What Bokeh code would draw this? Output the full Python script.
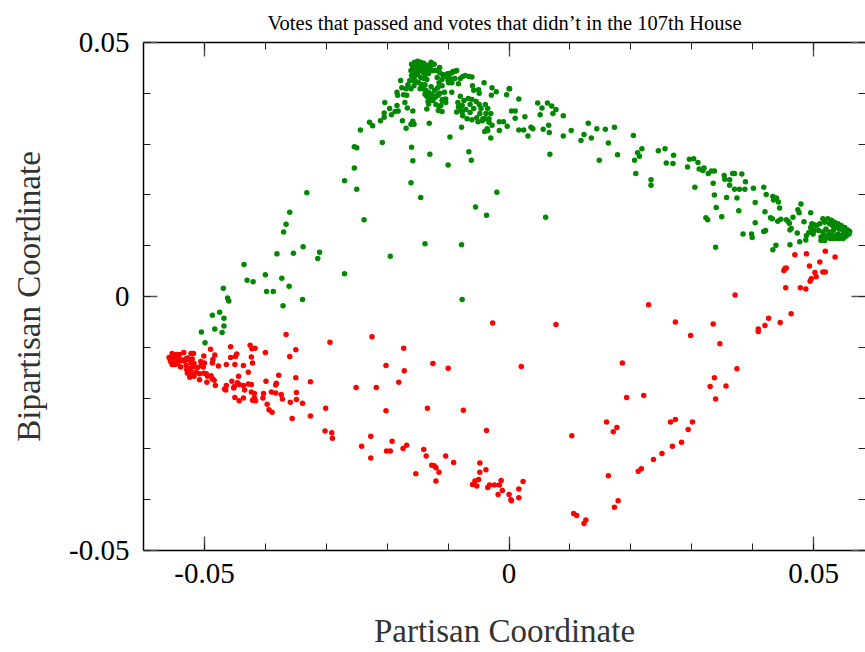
from bokeh.plotting import figure
from bokeh.models import Range1d, LinearAxis, SingleIntervalTicker, CustomJSTickFormatter
from bokeh.embed import file_html
from bokeh.resources import INLINE

# ---------------- data (partisan coordinate, bipartisan coordinate) ----------------
# votes that passed (green)
green_left_x = [-0.0505, -0.0471, -0.0499, -0.0483, -0.0468, -0.0475, -0.0487, -0.0468, -0.0469, -0.0462,
                -0.0460, -0.0435, -0.0430, -0.0420, -0.0400, -0.0398, -0.0387, -0.0373, -0.0361, -0.0371,
                -0.0339, -0.0381, -0.0354, -0.0370, -0.0366, -0.0360, -0.0338, -0.0311, -0.0314, -0.0332, -0.0270]
green_left_y = [-0.0070, -0.0071, -0.0091, -0.0064, -0.0058, -0.0031, -0.0037, -0.0043, 0.0016, -0.0003,
                -0.0009, 0.0063, 0.0032, 0.0029, 0.0043, 0.0010, 0.0010, 0.0036, 0.0020, -0.0018,
                -0.0006, 0.0084, 0.0085, 0.0127, 0.0142, 0.0166, 0.0098, 0.0087, 0.0075, 0.0204, 0.0045]

green_mid_x = [-0.0270, -0.0250, -0.0238, -0.0254, -0.0250, -0.0254, -0.0244, -0.0229, -0.0224, -0.0211,
               -0.0205, -0.0205, -0.0204, -0.0196, -0.0193, -0.0187, -0.0182, -0.0184, -0.0184, -0.0183,
               -0.0178, -0.0176, -0.0173, -0.0168, -0.0171, -0.0167, -0.0175, -0.0169, -0.0158, -0.0161,
               -0.0156, -0.0158, -0.0208, -0.0160, -0.0158, -0.0161, -0.0145, -0.0131, -0.0130, -0.0135,
               -0.0132, -0.0195, -0.0138, -0.0078, -0.0077, -0.0100, -0.0097, -0.0066, -0.0062, -0.0055,
               -0.0037, -0.0020, 0.0060, 0.0067]
green_mid_y = [0.0228, 0.0211, 0.0151, 0.0295, 0.0293, 0.0253, 0.0328, 0.0343, 0.0336, 0.0346,
               0.0353, 0.0361, 0.0382, 0.0370, 0.0358, 0.0364, 0.0365, 0.0376, 0.0402, 0.0396,
               0.0425, 0.0411, 0.0397, 0.0396, 0.0382, 0.0371, 0.0346, 0.0331, 0.0345, 0.0339,
               0.0339, 0.0365, 0.0303, 0.0294, 0.0267, 0.0224, 0.0195, 0.0341, 0.0280, 0.0369,
               0.0379, 0.0079, 0.0104, 0.0102, -0.0006, 0.0259, 0.0314, 0.0285, 0.0268, 0.0176,
               0.0160, 0.0205, 0.0156, 0.0280]

green_peak_x = [-0.0160, -0.0155, -0.0150, -0.0145, -0.0140, -0.0135, -0.0130, -0.0158, -0.0153, -0.0148,
                -0.0143, -0.0138, -0.0133, -0.0161, -0.0156, -0.0151, -0.0146, -0.0141, -0.0137, -0.0132,
                -0.0160, -0.0155, -0.0150, -0.0145, -0.0140, -0.0135, -0.0163, -0.0158, -0.0153, -0.0148,
                -0.0143, -0.0138, -0.0156, -0.0166, -0.0169, -0.0161, -0.0146, -0.0128, -0.0123, -0.0125,
                -0.0141, -0.0137, -0.0132, -0.0127, -0.0135, -0.0130, -0.0123, -0.0118, -0.0114, -0.0122,
                -0.0117, -0.0110, -0.0128, -0.0125, -0.0120, -0.0115, -0.0109, -0.0104, -0.0138, -0.0133]
green_peak_y = [0.0457, 0.0461, 0.0463, 0.0461, 0.0459, 0.0455, 0.0451, 0.0451, 0.0453, 0.0455,
                0.0453, 0.0449, 0.0445, 0.0445, 0.0443, 0.0445, 0.0445, 0.0441, 0.0437, 0.0439,
                0.0435, 0.0433, 0.0437, 0.0431, 0.0429, 0.0427, 0.0425, 0.0425, 0.0423, 0.0421,
                0.0417, 0.0417, 0.0415, 0.0417, 0.0409, 0.0409, 0.0409, 0.0461, 0.0457, 0.0445,
                0.0409, 0.0406, 0.0402, 0.0398, 0.0394, 0.0390, 0.0392, 0.0396, 0.0400, 0.0406,
                0.0411, 0.0415, 0.0413, 0.0386, 0.0378, 0.0374, 0.0388, 0.0382, 0.0398, 0.0384]

green_wing_x = [-0.0120, -0.0114, -0.0109, -0.0104, -0.0099, -0.0092, -0.0086, -0.0118, -0.0110, -0.0100,
                -0.0094, -0.0089, -0.0115,
                -0.0114, -0.0128, -0.0121, -0.0102, -0.0094, -0.0087, -0.0099, -0.0097, -0.0094, -0.0106,
                -0.0104, -0.0110, -0.0112, -0.0116, -0.0110, -0.0128, -0.0121, -0.0116,
                -0.0083, -0.0080, -0.0076, -0.0072, -0.0066, -0.0061, -0.0080, -0.0084, -0.0083, -0.0086, -0.0077]
green_wing_y = [0.0445, 0.0441, 0.0437, 0.0433, 0.0439, 0.0443, 0.0445, 0.0431, 0.0427, 0.0425,
                0.0421, 0.0429, 0.0421,
                0.0451, 0.0455, 0.0445, 0.0438, 0.0440, 0.0444, 0.0421, 0.0429, 0.0402, 0.0402,
                0.0389, 0.0386, 0.0376, 0.0366, 0.0364, 0.0387, 0.0392, 0.0396,
                0.0419, 0.0429, 0.0433, 0.0435, 0.0433, 0.0432, 0.0394, 0.0382, 0.0373, 0.0363, 0.0363]

green_ring_x = [-0.0074, -0.0067, -0.0061, -0.0054, -0.0049, -0.0046, -0.0048, -0.0053, -0.0061, -0.0069,
                -0.0076, -0.0079, -0.0077, -0.0064, -0.0058, -0.0064, -0.0071, -0.0039, -0.0035, -0.0038,
                -0.0043, -0.0033, -0.0051, -0.0030]
green_ring_y = [0.0386, 0.0390, 0.0388, 0.0384, 0.0378, 0.0370, 0.0360, 0.0352, 0.0348, 0.0350,
                0.0356, 0.0366, 0.0376, 0.0378, 0.0370, 0.0362, 0.0368, 0.0378, 0.0370, 0.0360,
                0.0350, 0.0350, 0.0344, 0.0360]

green_top_x = [-0.0041, -0.0028, -0.0021, -0.0029, -0.0050, -0.0049, -0.0060, -0.0058, -0.0033, -0.0036,
               -0.0040, -0.0035, -0.0030, -0.0016, -0.0009, -0.0016, -0.0003, -0.0004, 0.0000, 0.0001,
               0.0004, 0.0010, 0.0010, 0.0016, 0.0016, 0.0024, 0.0026, 0.0031, 0.0036, 0.0039,
               0.0047, 0.0054, 0.0051, 0.0063, 0.0070, 0.0077, 0.0072, 0.0065, 0.0066, 0.0056,
               0.0089, 0.0089, 0.0102, 0.0118, 0.0123, 0.0130, 0.0135, 0.0144, 0.0148, -0.0078,
               -0.0044, -0.0028, -0.0039]
green_top_y = [0.0421, 0.0411, 0.0403, 0.0396, 0.0407, 0.0400, 0.0415, 0.0406, 0.0343, 0.0330,
               0.0325, 0.0327, 0.0312, 0.0344, 0.0344, 0.0327, 0.0335, 0.0397, 0.0409, 0.0409,
               0.0365, 0.0365, 0.0351, 0.0389, 0.0328, 0.0328, 0.0354, 0.0316, 0.0333, 0.0330,
               0.0381, 0.0371, 0.0358, 0.0381, 0.0375, 0.0368, 0.0360, 0.0337, 0.0323, 0.0329,
               0.0356, 0.0316, 0.0327, 0.0307, 0.0319, 0.0341, 0.0312, 0.0330, 0.0268, 0.0333,
               0.0346, 0.0337, 0.0350]

green_right_x = [0.0158, 0.0173, 0.0163, 0.0178, 0.0204, 0.0211, 0.0218, 0.0214, 0.0206, 0.0208,
                 0.0233, 0.0233, 0.0245, 0.0256, 0.0270, 0.0258, 0.0269, 0.0293, 0.0296, 0.0303,
                 0.0310, 0.0305, 0.0312, 0.0318, 0.0320, 0.0327, 0.0332, 0.0337, 0.0335, 0.0337,
                 0.0340, 0.0323, 0.0326, 0.0349, 0.0339, 0.0353, 0.0354, 0.0362, 0.0362, 0.0367,
                 0.0370, 0.0357, 0.0370, 0.0378, 0.0387, 0.0374, 0.0382, 0.0388, 0.0377, 0.0384,
                 0.0398, 0.0399, 0.0401, 0.0404, 0.0404, 0.0418, 0.0422, 0.0420, 0.0421, 0.0418,
                 0.0429, 0.0432, 0.0433, 0.0439, 0.0442, 0.0444, 0.0446, 0.0438, 0.0433, 0.0458,
                 0.0463, 0.0461, 0.0461, 0.0466, 0.0474, 0.0476, 0.0479, 0.0473, 0.0477, 0.0487,
                 0.0484, 0.0492, 0.0495, 0.0497, 0.0495, 0.0434, 0.0441, 0.0455, 0.0460, 0.0499,
                 0.0488, 0.0501, 0.0499]
green_right_y = [0.0329, 0.0333, 0.0302, 0.0279, 0.0317, 0.0283, 0.0291, 0.0276, 0.0268, 0.0242,
                 0.0230, 0.0219, 0.0287, 0.0291, 0.0278, 0.0263, 0.0262, 0.0255, 0.0270, 0.0271,
                 0.0264, 0.0215, 0.0251, 0.0248, 0.0253, 0.0242, 0.0247, 0.0247, 0.0223, 0.0200,
                 0.0175, 0.0155, 0.0151, 0.0157, 0.0097, 0.0238, 0.0231, 0.0230, 0.0219, 0.0242,
                 0.0242, 0.0195, 0.0211, 0.0211, 0.0211, 0.0194, 0.0241, 0.0226, 0.0169, 0.0123,
                 0.0123, 0.0116, 0.0213, 0.0185, 0.0145, 0.0215, 0.0201, 0.0167, 0.0130, 0.0128,
                 0.0155, 0.0153, 0.0197, 0.0194, 0.0186, 0.0174, 0.0152, 0.0101, 0.0092, 0.0148,
                 0.0134, 0.0131, 0.0102, 0.0156, 0.0171, 0.0165, 0.0182, 0.0125, 0.0108, 0.0111,
                 0.0147, 0.0126, 0.0136, 0.0143, 0.0165, 0.0190, 0.0148, 0.0151, 0.0144, 0.0123,
                 0.0120, 0.0141, 0.0131]

green_tip_x = [0.0510, 0.0515, 0.0518, 0.0523, 0.0526, 0.0529, 0.0531, 0.0534, 0.0537, 0.0540,
               0.0542, 0.0545, 0.0548, 0.0551, 0.0553, 0.0556, 0.0559, 0.0520, 0.0525, 0.0529,
               0.0532, 0.0536, 0.0540, 0.0543, 0.0547, 0.0551, 0.0515, 0.0512, 0.0518, 0.0523,
               0.0527, 0.0531, 0.0537, 0.0542, 0.0548, 0.0554, 0.0558, 0.0512, 0.0518, 0.0508,
               0.0505, 0.0501]
green_tip_y = [0.0143, 0.0153, 0.0146, 0.0153, 0.0143, 0.0150, 0.0140, 0.0146, 0.0136, 0.0143,
               0.0133, 0.0140, 0.0130, 0.0136, 0.0127, 0.0131, 0.0128, 0.0133, 0.0127, 0.0120,
               0.0130, 0.0120, 0.0123, 0.0117, 0.0120, 0.0117, 0.0127, 0.0117, 0.0120, 0.0117,
               0.0114, 0.0114, 0.0114, 0.0114, 0.0114, 0.0120, 0.0123, 0.0110, 0.0110, 0.0130,
               0.0140, 0.0130]

# votes that didn't pass (red)
red_right_x = [0.0371, 0.0454, 0.0478, 0.0487, 0.0453, 0.0455, 0.0451, 0.0469, 0.0488, 0.0493,
               0.0502, 0.0504, 0.0496, 0.0494, 0.0510, 0.0515, 0.0519, 0.0519, 0.0535]
red_right_y = [0.0003, 0.0017, 0.0017, 0.0015, 0.0055, 0.0056, 0.0051, 0.0082, 0.0084, 0.0060,
               0.0047, 0.0039, 0.0035, 0.0030, 0.0068, 0.0048, 0.0048, 0.0089, 0.0078]

red_arm_x = [0.0229, 0.0273, 0.0298, 0.0335, 0.0346, 0.0409, 0.0409, 0.0420, 0.0426, 0.0445,
             0.0463, 0.0186, 0.0374, 0.0337, 0.0330, 0.0356, 0.0339, 0.0193, 0.0221, 0.0103,
             0.0160, 0.0177, 0.0171, 0.0265, 0.0273, 0.0301, 0.0294, 0.0283, 0.0268, 0.0251,
             0.0237, 0.0217, 0.0212, 0.0163, 0.0179, 0.0173, 0.0106, 0.0111, 0.0126, 0.0123]
red_arm_y = [-0.0016, -0.0050, -0.0077, -0.0054, -0.0093, -0.0064, -0.0069, -0.0057, -0.0043, -0.0051,
             -0.0034, -0.0131, -0.0142, -0.0160, -0.0177, -0.0176, -0.0202, -0.0199, -0.0195, -0.0274,
             -0.0247, -0.0258, -0.0266, -0.0247, -0.0242, -0.0247, -0.0262, -0.0287, -0.0295, -0.0309,
             -0.0321, -0.0339, -0.0344, -0.0353, -0.0402, -0.0415, -0.0427, -0.0431, -0.0440, -0.0447]

red_mid_x = [-0.0027, 0.0077, -0.0173, -0.0202, -0.0172, -0.0181, -0.0125, -0.0100, 0.0020]
red_mid_y = [-0.0052, -0.0055, -0.0102, -0.0136, -0.0146, -0.0169, -0.0132, -0.0141, -0.0138]

red_low_x = [-0.0339, -0.0326, -0.0301, -0.0302, -0.0291, -0.0290, -0.0202, -0.0134, -0.0075, -0.0037,
             -0.0242, -0.0227, -0.0227, -0.0192, -0.0201, -0.0195, -0.0174, -0.0168, -0.0140, -0.0136,
             -0.0104, -0.0091, -0.0153, -0.0127, -0.0123, -0.0120, -0.0115, -0.0120, -0.0048, -0.0048,
             -0.0038, -0.0060, -0.0056, -0.0050, -0.0053, -0.0035, -0.0032, -0.0024, -0.0016, -0.0013,
             -0.0011, -0.0018, 0.0000, 0.0003, 0.0004, 0.0016, 0.0023, 0.0016]
red_low_y = [-0.0210, -0.0235, -0.0220, -0.0265, -0.0268, -0.0279, -0.0225, -0.0220, -0.0224, -0.0264,
             -0.0295, -0.0275, -0.0318, -0.0285, -0.0304, -0.0304, -0.0299, -0.0293, -0.0301, -0.0314,
             -0.0314, -0.0327, -0.0349, -0.0332, -0.0333, -0.0337, -0.0346, -0.0363, -0.0328, -0.0346,
             -0.0341, -0.0370, -0.0363, -0.0360, -0.0373, -0.0376, -0.0371, -0.0371, -0.0371, -0.0362,
             -0.0382, -0.0390, -0.0390, -0.0400, -0.0402, -0.0379, -0.0364, -0.0396]

red_left_x = [-0.0366, -0.0294, -0.0225, -0.0457, -0.0490, -0.0425, -0.0422, -0.0417, -0.0400, -0.0350,
              -0.0360, -0.0447, -0.0449, -0.0457, -0.0423, -0.0483, -0.0501, -0.0421, -0.0486, -0.0487,
              -0.0506, -0.0500, -0.0464, -0.0477, -0.0450, -0.0436, -0.0502, -0.0428, -0.0378, -0.0399,
              -0.0350, -0.0326, -0.0444, -0.0455, -0.0446, -0.0443, -0.0436, -0.0434, -0.0428, -0.0423,
              -0.0451, -0.0452, -0.0464, -0.0465, -0.0467, -0.0423, -0.0418, -0.0450, -0.0443, -0.0436,
              -0.0421, -0.0418, -0.0416, -0.0403, -0.0404, -0.0397, -0.0394, -0.0389, -0.0390, -0.0383,
              -0.0383, -0.0382, -0.0374, -0.0372, -0.0359, -0.0356, -0.0349, -0.0349, -0.0251, -0.0218]
red_left_y = [-0.0075, -0.0090, -0.0079, -0.0099, -0.0104, -0.0096, -0.0103, -0.0102, -0.0110, -0.0105,
              -0.0118, -0.0113, -0.0118, -0.0120, -0.0119, -0.0115, -0.0117, -0.0131, -0.0124, -0.0131,
              -0.0128, -0.0131, -0.0134, -0.0137, -0.0134, -0.0136, -0.0139, -0.0149, -0.0155, -0.0167,
              -0.0160, -0.0168, -0.0157, -0.0167, -0.0170, -0.0173, -0.0175, -0.0184, -0.0172, -0.0173,
              -0.0177, -0.0180, -0.0175, -0.0184, -0.0182, -0.0188, -0.0191, -0.0199, -0.0205, -0.0200,
              -0.0204, -0.0200, -0.0205, -0.0191, -0.0200, -0.0212, -0.0223, -0.0228, -0.0188, -0.0190,
              -0.0174, -0.0171, -0.0193, -0.0202, -0.0208, -0.0240, -0.0189, -0.0203, -0.0179, -0.0179]

red_tail_x = [-0.0553, -0.0546, -0.0541, -0.0534, -0.0522, -0.0518, -0.0552, -0.0550, -0.0551, -0.0547,
              -0.0540, -0.0536, -0.0533, -0.0530, -0.0528, -0.0525, -0.0520, -0.0522, -0.0517, -0.0539,
              -0.0529, -0.0528, -0.0522, -0.0514, -0.0508, -0.0524, -0.0517, -0.0508, -0.0501, -0.0495,
              -0.0489, -0.0484, -0.0482, -0.0496, -0.0487, -0.0511, -0.0503, -0.0519, -0.0525, -0.0530,
              -0.0544, -0.0556, -0.0555, -0.0558, -0.0553, -0.0548, -0.0543, -0.0551, -0.0505, -0.0497]
red_tail_y = [-0.0112, -0.0114, -0.0114, -0.0110, -0.0112, -0.0112, -0.0126, -0.0129, -0.0125, -0.0123,
              -0.0126, -0.0125, -0.0127, -0.0123, -0.0121, -0.0125, -0.0123, -0.0131, -0.0132, -0.0139,
              -0.0144, -0.0151, -0.0149, -0.0149, -0.0152, -0.0159, -0.0157, -0.0164, -0.0151, -0.0157,
              -0.0156, -0.0165, -0.0175, -0.0169, -0.0162, -0.0140, -0.0136, -0.0139, -0.0142, -0.0136,
              -0.0132, -0.0125, -0.0129, -0.0120, -0.0134, -0.0134, -0.0120, -0.0116, -0.0136, -0.0152]

tick_interval = 0.05
title_text = "Votes that passed and votes that didn\u2019t in the 107th House"
x_label = "Partisan Coordinate"
y_label = "Bipartisan Coordinate"

green_x = (green_left_x + green_mid_x + green_peak_x + green_wing_x + green_ring_x
           + green_top_x + green_right_x + green_tip_x)
green_y = (green_left_y + green_mid_y + green_peak_y + green_wing_y + green_ring_y
           + green_top_y + green_right_y + green_tip_y)
red_x = red_right_x + red_arm_x + red_mid_x + red_low_x + red_left_x + red_tail_x
red_y = red_right_y + red_arm_y + red_mid_y + red_low_y + red_left_y + red_tail_y

# ---------------- figure ----------------
FONT = "Liberation Serif"

p = figure(width=865, height=652, output_backend="svg", toolbar_location=None,
           x_range=Range1d(-0.06, 0.0585), y_range=Range1d(-0.05, 0.05),
           min_border_left=143, min_border_right=0, min_border_top=42, min_border_bottom=102)
p.outline_line_color = None
p.grid.visible = False
p.background_fill_color = "white"
p.border_fill_color = "white"

fmt_code = "if (Math.abs(tick) < 1e-9) { return '0'; } return tick.toFixed(2);"


def style_axis(ax, show_labels=True):
    ax.ticker = SingleIntervalTicker(interval=tick_interval, num_minor_ticks=5)
    ax.major_tick_in = 14
    ax.major_tick_out = 0
    ax.minor_tick_in = 7
    ax.minor_tick_out = 0
    ax.major_tick_line_color = "#555555"
    ax.major_tick_line_width = 1.5
    ax.minor_tick_line_color = "#222222"
    ax.minor_tick_line_width = 1
    ax.axis_line_color = "black"
    ax.axis_line_width = 1.5
    ax.formatter = CustomJSTickFormatter(code=fmt_code)
    if show_labels:
        ax.major_label_text_font = FONT
        ax.major_label_text_font_size = "29px"
        ax.major_label_text_color = "black"
    else:
        ax.major_label_text_font_size = "1px"
        ax.major_label_text_color = None
        ax.major_label_standoff = 0


xa = p.below[0]
ya = p.left[0]
style_axis(xa)
style_axis(ya)
xa.major_label_standoff = 13
ya.major_label_standoff = 14
xa.axis_label = x_label
ya.axis_label = y_label
for ax in (xa, ya):
    ax.axis_label_text_font = FONT
    ax.axis_label_text_font_size = "33px"
    ax.axis_label_text_font_style = "normal"
    ax.axis_label_text_color = "#333333"
xa.axis_label_standoff = 27
ya.axis_label_standoff = 19

# top axis carries the chart title as its label
top = LinearAxis()
style_axis(top, show_labels=False)
top.axis_label = title_text
top.axis_label_text_font = FONT
top.axis_label_text_font_size = "20.5px"
top.axis_label_text_font_style = "normal"
top.axis_label_text_color = "black"
top.axis_label_standoff = 9
p.add_layout(top, "above")

right = LinearAxis()
style_axis(right, show_labels=False)
right.axis_line_color = None
p.add_layout(right, "right")

p.scatter(green_x, green_y, size=5.5, fill_color="#008800", line_color=None)
p.scatter(red_x, red_y, size=5.5, fill_color="#ff0000", line_color=None)

open("out.html", "w").write(file_html(p, INLINE))
